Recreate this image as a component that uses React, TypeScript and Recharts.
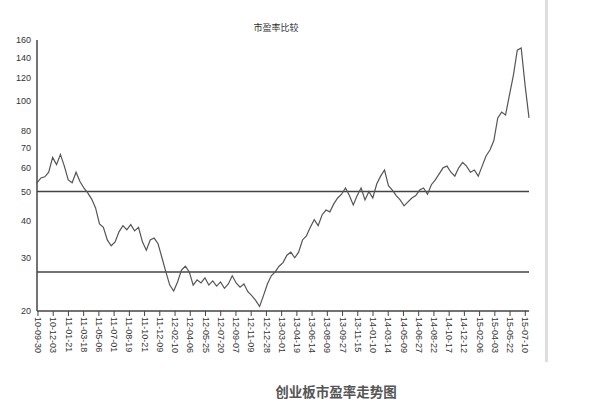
import {
  LineChart,
  Line,
  XAxis,
  YAxis,
  ReferenceLine,
} from "recharts";

// 市盈率 (PE), one value per sample
const peValues: number[] = [
  53.5, 55.5, 56, 58, 65, 61.5, 66.5, 60.8, 54.7, 53.5,
  58, 54, 51.4, 49.5, 47.2, 44.1, 39, 38, 34.5, 33,
  34, 36.7, 38.5, 37.3, 38.8, 37, 38, 34, 31.9, 34.5,
  35, 33.5, 30.1, 27, 24.4, 23.3, 25, 27.4, 28.2, 27,
  24.4, 25.4, 24.8, 25.8, 24.4, 25.2, 24.2, 25, 23.8, 24.6,
  26.2, 24.8, 24, 24.6, 23.2, 22.5, 21.7, 20.7, 22.5, 24.6,
  26.2, 27, 28.2, 29, 30.7, 31.4, 30.1, 31.4, 34.5, 35.6,
  38, 40.3, 38.5, 41.8, 43.4, 42.8, 45.5, 47.6, 49, 51.4,
  48.5, 45.1, 48.5, 51.4, 46.9, 50, 47.6, 53, 56.3, 59,
  52.3, 50.6, 48.5, 46.9, 44.8, 46.2, 47.6, 48.5, 50.6, 51.4,
  49, 52.7, 54.7, 57.3, 60, 60.8, 58, 56.3, 60, 62.5,
  60.8, 58, 59, 56.3, 60.8, 65.7, 68.8, 74, 88, 92,
  90, 105, 122, 148, 150.5, 113, 88,
];

const dateLabels: string[] = [
  "10-09-30", "10-12-03", "11-01-21", "11-03-18", "11-05-06", "11-07-01",
  "11-08-19", "11-10-21", "11-12-09", "12-02-10", "12-04-06", "12-05-25",
  "12-07-20", "12-09-07", "12-11-09", "12-12-28", "13-03-01", "13-04-19",
  "13-06-14", "13-08-09", "13-09-27", "13-11-15", "14-01-10", "14-03-14",
  "14-05-09", "14-06-27", "14-08-22", "14-10-17", "14-12-12", "15-02-06",
  "15-04-03", "15-05-22", "15-07-10",
];

const yTicks: number[] = [20, 30, 40, 50, 60, 70, 80, 100, 120, 140, 160];
const bandLines: number[] = [50, 27];

const SAMPLES_PER_LABEL = 3.9;

const data = peValues.map((pe, i) => ({ i, pe }));
const xTicks = dateLabels.map((_, k) => 0.25 + k * SAMPLES_PER_LABEL);

const DateTick = (props: any) => {
  const { x, y, index } = props;
  return (
    <g transform={`translate(${x},${y})`}>
      <text
        transform="rotate(90)"
        x={0}
        y={0}
        dy="0.32em"
        textAnchor="start"
        fontSize={9}
        fill="#333"
        fontFamily="Liberation Sans, Arial, sans-serif"
      >
        {dateLabels[index]}
      </text>
    </g>
  );
};

export default function App(): JSX.Element {
  return (
    <div style={{ position: "relative", width: 593, height: 405, background: "#fff" }}>
      <style>{"body{margin:0}"}</style>
      <LineChart
        width={593}
        height={405}
        data={data}
        margin={{ top: 40, right: 64, left: 7, bottom: 44 }}
      >
        <XAxis
          type="number"
          dataKey="i"
          domain={[0, 126]}
          ticks={xTicks}
          interval={0}
          allowDecimals
          height={50}
          tickSize={5}
          tickMargin={1}
          tick={<DateTick />}
          axisLine={{ stroke: "#444", strokeWidth: 1.5 }}
          tickLine={{ stroke: "#444" }}
        />
        <YAxis
          scale="log"
          domain={[20, 160]}
          allowDataOverflow
          ticks={yTicks}
          interval={0}
          width={30}
          tickLine={false}
          tickSize={6}
          tickMargin={0}
          axisLine={{ stroke: "#444", strokeWidth: 1.5 }}
          tick={{ fontSize: 9, fill: "#333", fontFamily: "Liberation Sans, Arial, sans-serif" }}
        />
        {bandLines.map((v) => (
          <ReferenceLine key={v} y={v} stroke="#444" strokeWidth={1.5} />
        ))}
        <Line
          type="linear"
          dataKey="pe"
          stroke="#555"
          strokeWidth={1.2}
          dot={false}
          isAnimationActive={false}
        />
      </LineChart>
      <div
        style={{
          position: "absolute",
          left: 236,
          top: 21,
          width: 80,
          textAlign: "center",
          fontSize: 9,
          color: "#333",
          fontFamily: "Noto Sans CJK SC, sans-serif",
        }}
      >
        市盈率比较
      </div>
      <div
        style={{
          position: "absolute",
          left: 246,
          top: 381,
          width: 180,
          textAlign: "center",
          fontSize: 13.5,
          fontWeight: 700,
          color: "#555",
          fontFamily: "Noto Sans CJK SC, sans-serif",
        }}
      >
        创业板市盈率走势图
      </div>
      <div
        style={{
          position: "absolute",
          left: 545,
          top: 0,
          width: 3,
          height: 362,
          background: "#ddd",
        }}
      />
    </div>
  );
}
